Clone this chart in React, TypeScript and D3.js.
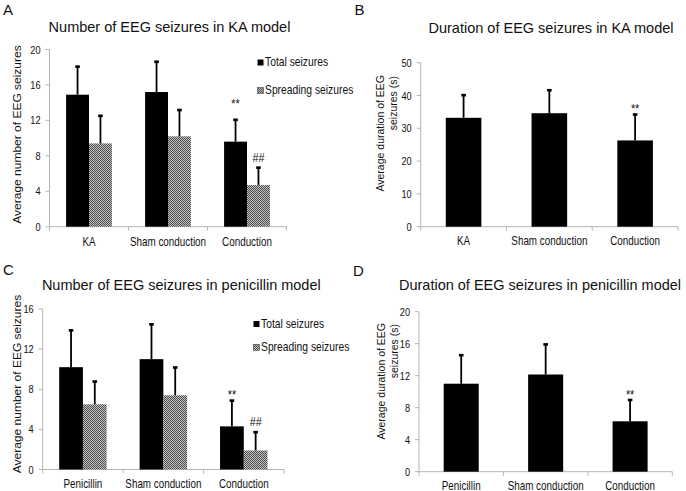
import React, { useEffect } from "react";
import * as d3 from "d3";

const FONT = "'Liberation Sans', Arial, Helvetica, sans-serif";

// ---------- data ----------
const kaCategories = ["KA", "Sham conduction", "Conduction"];
const penCategories = ["Penicillin", "Sham conduction", "Conduction"];
const seriesNames = ["Total seizures", "Spreading seizures"];

const kaTotalMean = [14.9, 15.2, 9.6];
const kaTotalErr = [3.2, 3.45, 2.5];
const kaSpreadMean = [9.4, 10.2, 4.7];
const kaSpreadErr = [3.15, 3.0, 2.0];
const kaDurationMean = [33.2, 34.6, 26.3];
const kaDurationErr = [7.0, 7.1, 8.0];

const penTotalMean = [10.2, 11.0, 4.3];
const penTotalErr = [3.7, 3.5, 2.6];
const penSpreadMean = [6.5, 7.4, 1.9];
const penSpreadErr = [2.3, 2.8, 1.85];
const penDurationMean = [11.0, 12.15, 6.3];
const penDurationErr = [3.6, 3.8, 2.7];

const ticksA = [0, 4, 8, 12, 16, 20];
const ticksB = [0, 10, 20, 30, 40, 50];
const ticksC = [0, 4, 8, 12, 16];
const ticksD = [0, 4, 8, 12, 16, 20];

// ---------- helpers ----------
function STxt(props: any) {
  const { x, y, sx = 1, sy = 1, rot = 0, anchor = "middle", size, children, fill = "#111" } = props;
  const t = `translate(${x},${y})${rot ? ` rotate(${rot})` : ""} scale(${sx},${sy})`;
  return (
    <text transform={t} textAnchor={anchor} fontSize={size} fill={fill} fontFamily={FONT}>
      {children}
    </text>
  );
}

type Series = { name: string; means: number[]; errs: number[]; fill: string };

function Panel({ cfg }: { cfg: any }) {
  const x = d3
    .scaleBand<string>()
    .domain(cfg.categories)
    .range([cfg.x0, cfg.x1])
    .paddingInner(cfg.pad)
    .paddingOuter(cfg.pad / 2);
  const sub = d3
    .scaleBand<string>()
    .domain(cfg.series.map((s: Series) => s.name))
    .range([0, x.bandwidth()]);
  const y = d3
    .scaleLinear()
    .domain([0, d3.max(cfg.ticks as number[]) as number])
    .range([cfg.yBottom, cfg.yTop]);
  const step = x.step();
  const bounds = d3.range(cfg.categories.length + 1).map((i) => cfg.x0 + i * step);
  const axisColor = "#b4b4b4";

  return (
    <g>
      <STxt x={cfg.letterX} y={cfg.letterY} size={15} anchor="start">
        {cfg.letter}
      </STxt>
      <STxt x={cfg.titleX} y={cfg.titleY} size={14.5}>
        {cfg.title}
      </STxt>
      {/* y axis */}
      <line x1={cfg.x0} x2={cfg.x0} y1={y(0)} y2={cfg.yTop} stroke={axisColor} strokeWidth={1} />
      {(cfg.ticks as number[]).map((t) => (
        <g key={t}>
          <line x1={cfg.x0 - 4} x2={cfg.x0} y1={y(t)} y2={y(t)} stroke={axisColor} strokeWidth={1} />
          <STxt x={cfg.x0 - 9} y={y(t) + 4} size={11.5} sx={0.8} anchor="end">
            {t}
          </STxt>
        </g>
      ))}
      {/* x axis */}
      <line x1={cfg.x0} x2={cfg.x1} y1={y(0)} y2={y(0)} stroke={axisColor} strokeWidth={1} />
      {bounds.map((b, i) => (
        <line key={i} x1={b} x2={b} y1={y(0)} y2={y(0) + 4} stroke={axisColor} strokeWidth={1} />
      ))}
      {(cfg.categories as string[]).map((c) => (
        <STxt key={c} x={(x(c) as number) + x.bandwidth() / 2} y={y(0) + cfg.xLabelDy} size={12} sx={0.82}>
          {c}
        </STxt>
      ))}
      {/* bars */}
      {(cfg.series as Series[]).map((s) =>
        (cfg.categories as string[]).map((c, i) => {
          const bx = (x(c) as number) + (sub(s.name) as number);
          const bw = sub.bandwidth();
          const cx = bx + bw / 2;
          const top = y(s.means[i]);
          const etop = y(s.means[i] + s.errs[i]);
          return (
            <g key={s.name + c}>
              <rect x={bx} y={top} width={bw} height={y(0) - top} fill={s.fill} />
              <line x1={cx} x2={cx} y1={top} y2={etop} stroke="#000" strokeWidth={1.8} />
              <rect x={cx - 2.3} y={etop - 1} width={4.6} height={2.6} fill="#000" />
            </g>
          );
        })
      )}
      {/* annotations */}
      {(cfg.annotations as any[]).map((a, k) => {
        const s = (cfg.series as Series[])[a.series];
        const i = cfg.categories.indexOf(a.cat);
        const cx = (x(a.cat) as number) + (sub(s.name) as number) + sub.bandwidth() / 2;
        const ey = y(s.means[i] + s.errs[i]);
        return (
          <STxt key={k} x={cx} y={ey - a.dy} size={12} sx={0.9}>
            {a.text}
          </STxt>
        );
      })}
      {/* y label */}
      {(cfg.yLabel as any[]).map((l, k) => (
        <STxt key={k} x={l.x} y={l.y} rot={-90} sy={l.sy} size={l.size} anchor={l.anchor}>
          {l.text}
        </STxt>
      ))}
      {/* legend */}
      {cfg.legend &&
        (cfg.series as Series[]).map((s, k) => (
          <g key={s.name}>
            <rect
              x={cfg.legend.x}
              y={cfg.legend.ys[k]}
              width={6}
              height={6}
              fill={s.fill}
              stroke={k === 0 ? "none" : "#444"}
              strokeWidth={0.6}
            />
            <STxt x={cfg.legend.x + 7.5} y={cfg.legend.ys[k] + 6.6} size={12} sx={0.86} anchor="start">
              {s.name}
            </STxt>
          </g>
        ))}
    </g>
  );
}

export default function App() {
  useEffect(() => {
    document.body.style.margin = "0";
  }, []);

  const hatch = "url(#hatch)";

  const panels = [
    {
      letter: "A",
      letterX: 3,
      letterY: 14.5,
      title: "Number of EEG seizures in KA model",
      titleX: 169.5,
      titleY: 31.5,
      x0: 49.5,
      x1: 286.5,
      yTop: 49.5,
      yBottom: 226.7,
      ticks: ticksA,
      pad: 0.42,
      categories: kaCategories,
      xLabelDy: 19,
      series: [
        { name: seriesNames[0], means: kaTotalMean, errs: kaTotalErr, fill: "#000" },
        { name: seriesNames[1], means: kaSpreadMean, errs: kaSpreadErr, fill: hatch },
      ],
      annotations: [
        { cat: "Conduction", series: 0, text: "**", dy: 11.5 },
        { cat: "Conduction", series: 1, text: "##", dy: 5 },
      ],
      yLabel: [{ text: "Average number of EEG seizures", x: 21, y: 134.5, size: 12, sy: 0.85, anchor: "middle" }],
      legend: { x: 257.5, ys: [59.5, 87.5] },
    },
    {
      letter: "B",
      letterX: 354.5,
      letterY: 14.5,
      title: "Duration of EEG seizures in KA model",
      titleX: 551,
      titleY: 33,
      x0: 420.7,
      x1: 678,
      yTop: 62.7,
      yBottom: 226.7,
      ticks: ticksB,
      pad: 0.585,
      categories: kaCategories,
      xLabelDy: 18.5,
      series: [{ name: "Duration", means: kaDurationMean, errs: kaDurationErr, fill: "#000" }],
      annotations: [{ cat: "Conduction", series: 0, text: "**", dy: 1.5 }],
      yLabel: [
        { text: "Average duration of EEG", x: 384, y: 75, size: 10.5, sy: 1, anchor: "end" },
        { text: "seizures (s)", x: 397, y: 76, size: 10.5, sy: 1, anchor: "end" },
      ],
      legend: null,
    },
    {
      letter: "C",
      letterX: 3,
      letterY: 275,
      title: "Number of EEG seizures in penicillin model",
      titleX: 181.3,
      titleY: 289.5,
      x0: 42.7,
      x1: 284,
      yTop: 309,
      yBottom: 469.5,
      ticks: ticksC,
      pad: 0.41,
      categories: penCategories,
      xLabelDy: 18.5,
      series: [
        { name: seriesNames[0], means: penTotalMean, errs: penTotalErr, fill: "#000" },
        { name: seriesNames[1], means: penSpreadMean, errs: penSpreadErr, fill: hatch },
      ],
      annotations: [
        { cat: "Conduction", series: 0, text: "**", dy: 1.5 },
        { cat: "Conduction", series: 1, text: "##", dy: 6 },
      ],
      yLabel: [{ text: "Average number of EEG seizures", x: 20.5, y: 384, size: 12, sy: 0.85, anchor: "middle" }],
      legend: { x: 253.5, ys: [321, 344.3] },
    },
    {
      letter: "D",
      letterX: 353,
      letterY: 275.5,
      title: "Duration of EEG seizures in penicillin model",
      titleX: 540,
      titleY: 289.5,
      x0: 419,
      x1: 672.3,
      yTop: 311.7,
      yBottom: 471.7,
      ticks: ticksD,
      pad: 0.585,
      categories: penCategories,
      xLabelDy: 18.5,
      series: [{ name: "Duration", means: penDurationMean, errs: penDurationErr, fill: "#000" }],
      annotations: [{ cat: "Conduction", series: 0, text: "**", dy: 1 }],
      yLabel: [
        { text: "Average duration of EEG", x: 384.5, y: 323, size: 10.5, sy: 1, anchor: "end" },
        { text: "seizures (s)", x: 397.5, y: 324, size: 10.5, sy: 1, anchor: "end" },
      ],
      legend: null,
    },
  ];

  return (
    <svg
      width={686}
      height={491}
      viewBox="0 0 686 491"
      style={{ display: "block", background: "#fff" }}
    >
      <defs>
        <pattern id="hatch" width={2} height={2} patternUnits="userSpaceOnUse">
          <rect width={2} height={2} fill="#c4c4c4" />
          <rect x={0} y={0} width={1} height={1} fill="#4a4a4a" />
          <rect x={1} y={1} width={1} height={1} fill="#4a4a4a" />
        </pattern>
      </defs>
      <rect width={686} height={491} fill="#fff" />
      {panels.map((p) => (
        <Panel key={p.letter} cfg={p} />
      ))}
    </svg>
  );
}
